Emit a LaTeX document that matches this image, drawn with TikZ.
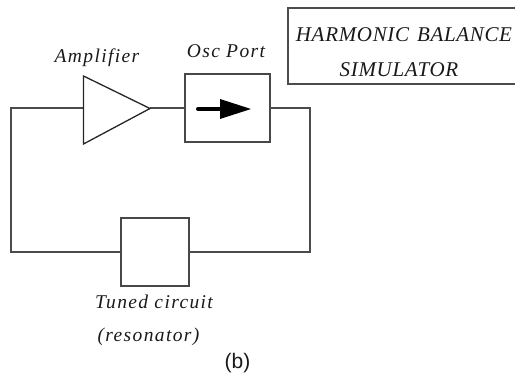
\documentclass[tikz,border=0pt]{standalone}
\usepackage{fontspec}
\setmainfont{Liberation Serif}
\newfontfamily\capfont{Liberation Sans}
\newfontfamily\labfont[LetterSpace=7]{Liberation Serif}
\newfontfamily\bigfont[LetterSpace=3.2]{Liberation Serif}
\begin{document}
\begin{tikzpicture}[x=1pt,y=-1pt,
  wire/.style={line width=2pt,draw=black!70,line join=miter},
  block/.style={draw=black!72,line width=2pt,fill=white,minimum width=68pt,minimum height=68pt,inner sep=0pt,outer sep=0pt},
  lab/.style={font=\labfont\itshape\fontsize{19.5}{22}\selectfont,inner sep=0pt,text=black!90},
  biglab/.style={font=\bigfont\itshape\fontsize{21}{24}\selectfont,inner sep=0pt,text=black!90}]
\useasboundingbox (0,0) rectangle (515,374);
\coordinate (tl) at (10.5,108.5);
\coordinate (tr) at (309.5,108.5);
\coordinate (bl) at (10.5,252.5);
\coordinate (br) at (309.5,252.5);
\coordinate (a1) at (83.5,76);
\coordinate (a2) at (83.5,144);
\coordinate (a3) at (150,108.5);
\coordinate (ain) at (83.5,108.5);
\node[block,minimum width=85pt] (osc) at (227,108.5) {};
\node[block] (tuned) at (154.5,252.5) {};
\draw[wire] (ain) -- (tl) -- (bl) -- (tuned.west);
\draw[wire] (tuned.east) -- (br) -- (tr) -- (osc.east);
\draw[wire] (a3) -- (osc.west);
\draw[line width=1.3pt,draw=black!85,line join=miter] (a1) -- (a3) -- (a2) -- cycle;
\coordinate (ar0) at (198,109);
\coordinate (ar1) at (221,109);
\coordinate (ar2) at (251,109);
\draw[line width=4pt,line cap=round,black] (ar0) -- (ar1);
\fill[black] (220,99) -- (ar2) -- (220,119) -- cycle;
\coordinate (h1) at (515,8.5);
\coordinate (h2) at (287.5,8.5);
\coordinate (h3) at (287.5,84.5);
\coordinate (h4) at (515,84.5);
\draw[wire] (h1) -- (h2) -- (h3) -- (h4);
\node[lab] (amp) at (97,58) {Amplifier};
\node[lab] (port) at (226,51) {Osc Port};
\node[biglab] (hb) at (404,35) {HARMONIC\hspace{2pt} BALANCE};
\node[biglab] (sim) at (399,70) {SIMULATOR};
\node[lab] (t1) at (154,302) {Tuned circuit};
\node[lab] (t2) at (148.5,337) {(resonator)};
\node[font=\capfont\fontsize{21}{23}\selectfont,inner sep=0pt,text=black!90] (b) at (237.5,363) {(b)};
\end{tikzpicture}
\end{document}
